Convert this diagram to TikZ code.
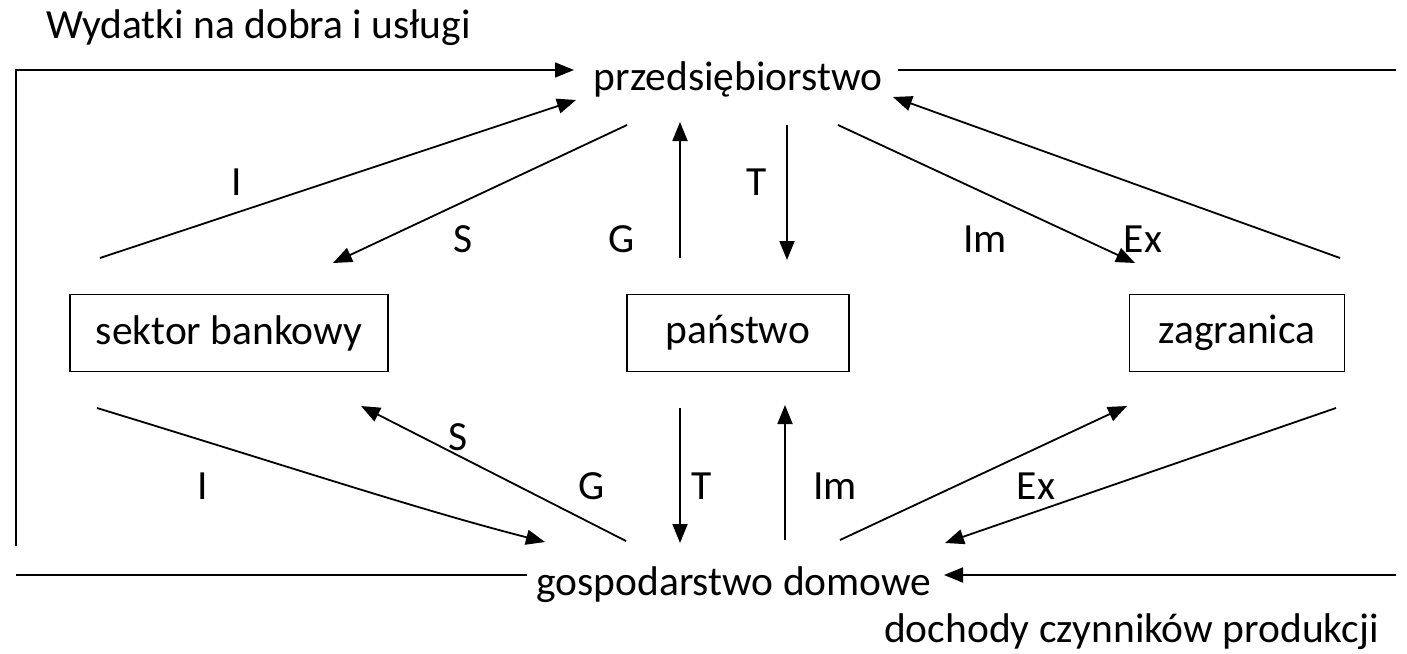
\documentclass[tikz,border=0pt]{standalone}
\usepackage{fontspec}
\setmainfont{Carlito}
\usetikzlibrary{arrows.meta}
\begin{document}
\begin{tikzpicture}[x=1pt,y=-1pt,
  every node/.style={font=\fontsize{41.5}{50}\selectfont, inner sep=0pt},
  flow/.style={line width=1.8pt, -{Triangle[length=19pt,width=15pt]}},
  plain/.style={line width=1.8pt},
  box/.style={draw, line width=1.6pt, minimum height=77pt},
  lbl/.style={anchor=base}]
\useasboundingbox (0,0) rectangle (1407,653);
% main texts
\node[anchor=base west] (wyd) at (46,38) {Wydatki na dobra i usługi};
\node[anchor=base] (firm) at (738,90) {przedsiębiorstwo};
\node[anchor=base] (home) at (734,595) {gospodarstwo domowe};
\node[anchor=base east] (doch) at (1379,642) {dochody czynników produkcji};
% boxes
\node[box, minimum width=318pt] (bank) at (229,333) {sektor bankowy};
\node[box, minimum width=222pt] (gov) at (738,333) {państwo};
\node[box, minimum width=215pt] (abr) at (1237,333) {zagranica};
% outer loop
\coordinate (lb) at (16,546);
\coordinate (lt) at (16,70);
\coordinate (ft) at (574,70);
\draw[flow] (lb) -- (lt) -- (ft);
\coordinate (rt1) at (898,70);
\coordinate (rt2) at (1396,70);
\draw[plain] (rt1) -- (rt2);
\coordinate (hb1) at (527,575);
\coordinate (hb2) at (16,575);
\draw[plain] (hb1) -- (hb2);
\coordinate (rb) at (1396,575);
\coordinate (hr) at (944,575);
\draw[flow] (rb) -- (hr);
% upper flows
\coordinate (uI1) at (100,258); \coordinate (uI2) at (576,100);
\draw[flow] (uI1) -- (uI2);
\coordinate (uS1) at (627,125); \coordinate (uS2) at (333,263);
\draw[flow] (uS1) -- (uS2);
\coordinate (uG1) at (680,258); \coordinate (uG2) at (680,122);
\draw[flow] (uG1) -- (uG2);
\coordinate (uT1) at (787,125); \coordinate (uT2) at (787,260);
\draw[flow] (uT1) -- (uT2);
\coordinate (uM1) at (838,125); \coordinate (uM2) at (1135,263);
\draw[flow] (uM1) -- (uM2);
\coordinate (uE1) at (1340,258); \coordinate (uE2) at (893,97);
\draw[flow] (uE1) -- (uE2);
% lower flows
\coordinate (lI1) at (97,408); \coordinate (lI2) at (545,542);
\draw[flow] (lI1) .. controls (300,470) and (420,510) .. (lI2);
\coordinate (lS1) at (626,541); \coordinate (lS2) at (361,406);
\draw[flow] (lS1) -- (lS2);
\coordinate (lT1) at (680,408); \coordinate (lT2) at (680,543);
\draw[flow] (lT1) -- (lT2);
\coordinate (lM1) at (785,540); \coordinate (lM2) at (785,405);
\draw[flow] (lM1) -- (lM2);
\coordinate (lX1) at (840,540); \coordinate (lX2) at (1127,406);
\draw[flow] (lX1) -- (lX2);
\coordinate (lY1) at (1336,408); \coordinate (lY2) at (945,543);
\draw[flow] (lY1) -- (lY2);
% labels
\node[lbl] (tI) at (237,195) {I};
\node[lbl] (tS) at (463,252) {S};
\node[lbl] (tG) at (622,252) {G};
\node[lbl] (tT) at (757,195) {T};
\node[lbl] (tIm) at (985,252) {Im};
\node[lbl] (tEx) at (1143,252) {Ex};
\node[lbl] (bI) at (203,499) {I};
\node[lbl] (bS) at (458,450) {S};
\node[lbl] (bG) at (592,499) {G};
\node[lbl] (bT) at (702,499) {T};
\node[lbl] (bIm) at (835,499) {Im};
\node[lbl] (bEx) at (1036,499) {Ex};
\end{tikzpicture}
\end{document}
